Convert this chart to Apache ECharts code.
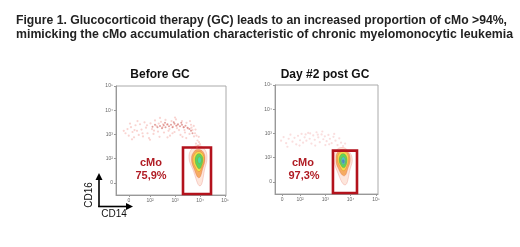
<!DOCTYPE html>
<html>
<head>
<meta charset="utf-8">
<script src="https://cdn.jsdelivr.net/npm/echarts@6/dist/echarts.min.js"></script>
<style>
  html, body { margin: 0; padding: 0; background: #fff; }
  #main { width: 520px; height: 247px; }
</style>
</head>
<body>
<div id="main"></div>
<script>
// axis positions are in "decades" (2 = 10^2, 3 = 10^3 ...), 0 sits below 10^2
var tickText = ['0', '10\u00b2', '10\u00b3', '10\u2074', '10\u2075'];
var xTicksA = [1.16, 2, 3, 4, 5];
var xTicksB = [1.29, 2, 3, 4, 5];
var yTicks = [1, 2, 3, 4, 5];

var mainTitle = ['Figure 1. Glucocorticoid therapy (GC) leads to an increased proportion of cMo >94%,',
  'mimicking the cMo accumulation characteristic of chronic myelomonocytic leukemia'];
var panelTitles = ['Before GC', 'Day #2 post GC'];
var gateNames = ['cMo', 'cMo'];
var gatePct = ['75,9%', '97,3%'];

// gate rectangles [u0, v0, u1, v1]
var gateA = [3.32, 0.54, 4.44, 2.46];
var gateB = [3.30, 0.54, 4.25, 2.29];

// sparse events outside the gate, before GC
var eventsA = [[1.02,3.05],[1.10,3.22],[1.15,2.95],[1.24,3.30],[1.30,3.10],[1.36,2.88],[1.42,3.38],[1.48,3.15],
  [1.55,2.98],[1.60,3.42],[1.66,3.20],[1.72,2.92],[1.78,3.50],[1.84,3.28],[1.90,3.05],[1.96,2.85],[2.02,3.46],
  [2.08,3.22],[2.14,3.02],[2.20,3.58],[2.26,3.35],[2.32,3.12],[2.38,2.90],[2.44,3.52],[2.50,3.30],[2.56,3.08],
  [2.62,3.60],[2.68,3.40],[2.74,3.15],[2.80,2.95],[2.86,3.55],[2.92,3.32],[2.98,3.10],[3.04,3.62],[3.10,3.38],
  [3.16,3.18],[3.22,2.98],[3.28,3.55],[3.34,3.30],[3.40,3.08],[3.46,3.48],[3.52,3.25],[3.58,3.02],[3.64,3.40],
  [3.70,3.18],[3.76,2.92],[3.82,3.20],[3.86,2.95],[3.90,2.75],[3.84,2.62],[3.92,2.55],[3.88,2.45],[3.96,2.68],
  [1.28,2.80],[2.00,2.78],[2.70,2.88],[3.30,2.90],[0.95,3.15],[1.50,3.55],[2.40,3.68],[3.00,3.70],[3.60,3.55],
  [1.20,3.45],[1.70,3.05],[2.35,3.45],[2.90,3.05],[3.45,2.85],[3.75,3.35],[3.95,2.90],[4.00,2.60],
  [1.38,3.18],[1.88,3.38],[2.16,3.16],[2.52,3.42],[2.78,3.22],[3.08,3.26],[3.38,3.18],[3.66,3.28],[3.80,3.05]];
// dense streak, before GC
var streakA = [[2.30,3.30],[2.40,3.35],[2.48,3.26],[2.55,3.38],[2.62,3.30],[2.70,3.42],[2.76,3.34],[2.84,3.40],
  [2.90,3.30],[2.98,3.44],[3.05,3.36],[3.12,3.42],[3.20,3.34],[3.28,3.40],[3.35,3.30],[3.42,3.36],[3.50,3.28],
  [3.58,3.22],[3.64,3.15],[2.60,3.48],[2.95,3.50],[3.25,3.48],[2.20,3.40],[2.10,3.32],[3.70,3.05]];
// sparse events, day 2
var eventsB = [[1.25,2.70],[1.35,2.85],[1.45,2.60],[1.55,2.78],[1.62,2.95],[1.70,2.66],[1.78,2.82],[1.85,2.55],
  [1.92,2.90],[2.00,2.72],[2.06,2.98],[2.12,2.62],[2.18,2.84],[2.25,2.70],[2.32,3.02],[2.38,2.78],[2.45,2.58],
  [2.52,2.92],[2.58,2.74],[2.65,3.05],[2.72,2.84],[2.78,2.64],[2.85,2.96],[2.92,2.76],[2.98,2.88],[3.05,2.68],
  [3.12,2.94],[3.18,2.78],[3.25,2.60],[3.32,2.86],[3.40,2.70],[3.48,2.52],[3.55,2.80],[3.62,2.62],[3.70,2.48],
  [3.78,2.58],[2.40,3.00],[2.88,3.08],[1.98,2.50],[2.60,2.50],[3.00,2.52],[1.50,2.45],[2.22,2.96],[2.70,2.95],
  [3.15,2.55],[3.35,2.98]];

// density contours (outer -> inner)
var contourA = [
  [[3.92,2.54],[4.16,2.42],[4.28,2.08],[4.20,1.625],[4.00,0.875],[3.72,1.54],[3.56,2.04],[3.68,2.42]],
  [[3.92,2.375],[4.12,2.29],[4.20,2.0],[4.12,1.625],[3.96,1.21],[3.76,1.58],[3.66,2.0],[3.76,2.29]],
  [[3.94,2.29],[4.10,2.21],[4.16,1.96],[4.08,1.67],[3.96,1.46],[3.80,1.67],[3.72,1.96],[3.80,2.21]],
  [[3.96,2.21],[4.08,2.125],[4.12,1.96],[4.08,1.75],[3.98,1.58],[3.86,1.71],[3.80,1.92],[3.84,2.125]],
  [[3.98,2.08],[4.06,1.94],[3.98,1.79],[3.90,1.94]]
];
var contourB = [
  [[3.66,2.42],[3.90,2.29],[4.06,1.96],[3.98,1.54],[3.78,0.875],[3.46,1.46],[3.34,1.96],[3.42,2.29]],
  [[3.68,2.33],[3.88,2.25],[3.98,1.96],[3.90,1.58],[3.74,1.25],[3.50,1.58],[3.42,1.96],[3.50,2.25]],
  [[3.70,2.25],[3.86,2.17],[3.92,1.92],[3.86,1.67],[3.72,1.46],[3.56,1.67],[3.48,1.92],[3.54,2.17]],
  [[3.70,2.17],[3.82,2.08],[3.86,1.875],[3.82,1.69],[3.72,1.58],[3.60,1.71],[3.54,1.875],[3.58,2.08]],
  [[3.71,2.04],[3.80,1.875],[3.72,1.71],[3.62,1.875]],
  [[3.70,1.92],[3.75,1.85],[3.71,1.77],[3.67,1.85]]
];
var contourColorsA = ['#fde6dc', '#f6ab62', '#f3e04c', '#5ed55a', '#46e0a0'];
var contourColorsB = ['#fde6dc', '#f6ab62', '#f3e04c', '#5ed55a', '#3ed2c8', '#3c8fe0'];

var gateColor = '#b3121c';
var labelColor = '#b01c24';

// measure text so it can be squeezed to the width seen in the figure
var ctx = document.createElement('canvas').getContext('2d');
function squeeze(text, font, target) {
  ctx.font = font;
  return target / ctx.measureText(text).width;
}
var titleFont = 'bold 13px "Liberation Sans"';
var gateFont = 'bold 11px "Liberation Sans"';

function axisPair(gi, min, max, xt) {
  var lab = { fontSize: 5, color: '#666', margin: 3 };
  return {
    x: {
      type: 'value', gridIndex: gi, min: min, max: max,
      splitLine: { show: false },
      axisLine: { lineStyle: { color: '#999', width: 1 } },
      axisTick: { customValues: xt, length: 2, lineStyle: { color: '#999' } },
      axisLabel: Object.assign({ customValues: xt, formatter: function (v) { return tickText[xt.indexOf(v)]; } }, lab)
    },
    y: {
      type: 'value', gridIndex: gi, min: 0.5, max: 5,
      splitLine: { show: false },
      axisLine: { lineStyle: { color: '#999', width: 1 } },
      axisTick: { customValues: yTicks, length: 2, lineStyle: { color: '#999' } },
      axisLabel: Object.assign({ customValues: yTicks, formatter: function (v) { return tickText[yTicks.indexOf(v)]; } }, lab)
    }
  };
}
var axA = axisPair(0, 0.64, 5.04, xTicksA);
var axB = axisPair(1, 1.01, 5.08, xTicksB);

function contourSeries(gi, polys, colors) {
  return {
    type: 'custom', xAxisIndex: gi, yAxisIndex: gi, silent: true, clip: false,
    data: polys.map(function (p, i) { return [i]; }),
    renderItem: function (params, api) {
      var i = api.value(0);
      var pts = polys[i].map(function (p) { return api.coord(p); });
      return {
        type: 'polygon',
        shape: { points: pts, smooth: 0.45 },
        style: { fill: colors[i], stroke: i === 0 ? 'rgba(230,120,110,0.5)' : 'rgba(210,80,40,0.45)', lineWidth: 0.6 }
      };
    }
  };
}
function gateSeries(gi, g) {
  return {
    type: 'custom', xAxisIndex: gi, yAxisIndex: gi, silent: true, clip: false,
    data: [g],
    renderItem: function (params, api) {
      var a = api.coord([api.value(0), api.value(3)]);
      var b = api.coord([api.value(2), api.value(1)]);
      return {
        type: 'rect',
        shape: { x: a[0], y: a[1], width: b[0] - a[0], height: b[1] - a[1] },
        style: { fill: 'none', stroke: gateColor, lineWidth: 2.6 }
      };
    }
  };
}
function dots(gi, data, color, size) {
  return { type: 'scatter', xAxisIndex: gi, yAxisIndex: gi, data: data, symbolSize: size, silent: true,
    itemStyle: { color: color } };
}

var myChart = echarts.init(document.getElementById('main'), null, { renderer: 'canvas' });
var option = {
  animation: false,
  backgroundColor: '#fff',
  grid: [
    { left: 116, top: 86, width: 110, height: 109, show: true, borderColor: '#aaa', borderWidth: 1 },
    { left: 275, top: 85, width: 103, height: 109, show: true, borderColor: '#aaa', borderWidth: 1 }
  ],
  xAxis: [axA.x, axB.x],
  yAxis: [axA.y, axB.y],
  series: [
    dots(0, eventsA, 'rgba(232,100,90,0.35)', 2.2),
    dots(0, streakA, 'rgba(190,40,35,0.55)', 2),
    dots(1, eventsB, 'rgba(235,120,120,0.3)', 2.2),
    contourSeries(0, contourA, contourColorsA),
    contourSeries(1, contourB, contourColorsB),
    gateSeries(0, gateA),
    gateSeries(1, gateB)
  ],
  graphic: [
    { type: 'text', x: 16, y: 20, scaleX: squeeze(mainTitle[0], titleFont, 491),
      style: { text: mainTitle[0], font: titleFont, fill: '#222', verticalAlign: 'middle' } },
    { type: 'text', x: 16, y: 34, scaleX: squeeze(mainTitle[1], titleFont, 497),
      style: { text: mainTitle[1], font: titleFont, fill: '#222', verticalAlign: 'middle' } },
    { type: 'text', x: 160, y: 75, style: { text: panelTitles[0], font: 'bold 12px "Liberation Sans"', fill: '#111', align: 'center', verticalAlign: 'middle' } },
    { type: 'text', x: 325, y: 75, style: { text: panelTitles[1], font: 'bold 12px "Liberation Sans"', fill: '#111', align: 'center', verticalAlign: 'middle' } },
    { type: 'text', x: 151, y: 163, style: { text: gateNames[0], font: gateFont, fill: labelColor, align: 'center', verticalAlign: 'middle' } },
    { type: 'text', x: 151, y: 176, style: { text: gatePct[0], font: gateFont, fill: labelColor, align: 'center', verticalAlign: 'middle' } },
    { type: 'text', x: 303, y: 163, style: { text: gateNames[1], font: gateFont, fill: labelColor, align: 'center', verticalAlign: 'middle' } },
    { type: 'text', x: 304, y: 176, style: { text: gatePct[1], font: gateFont, fill: labelColor, align: 'center', verticalAlign: 'middle' } },
    // CD16 / CD14 axis arrows
    { type: 'line', shape: { x1: 99, y1: 207, x2: 99, y2: 178 }, style: { stroke: '#000', lineWidth: 1.6 } },
    { type: 'polygon', shape: { points: [[99, 173], [95.5, 180], [102.5, 180]] }, style: { fill: '#000' } },
    { type: 'line', shape: { x1: 98.2, y1: 206.5, x2: 127, y2: 206.5 }, style: { stroke: '#000', lineWidth: 1.6 } },
    { type: 'polygon', shape: { points: [[133, 206.5], [126, 203], [126, 210]] }, style: { fill: '#000' } },
    { type: 'text', x: 89, y: 195, rotation: Math.PI / 2, style: { text: 'CD16', font: '10px "Liberation Sans"', fill: '#111', align: 'center', verticalAlign: 'middle' } },
    { type: 'text', x: 114, y: 214, style: { text: 'CD14', font: '10px "Liberation Sans"', fill: '#111', align: 'center', verticalAlign: 'middle' } }
  ]
};

myChart.setOption(option);
</script>
</body>
</html>
